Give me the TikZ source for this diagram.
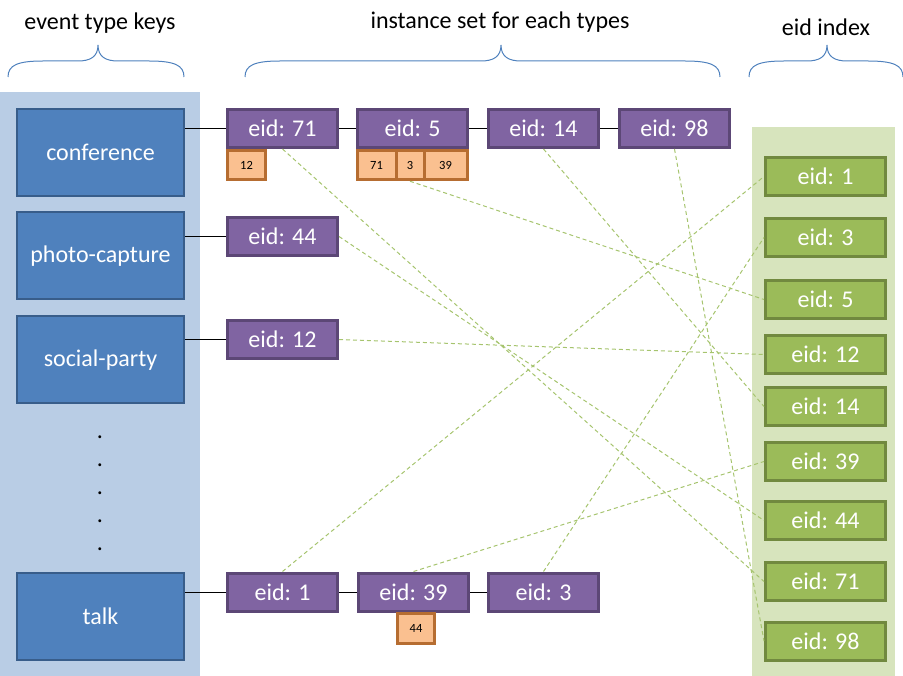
\documentclass[tikz,border=0pt]{standalone}
\usepackage{fontspec}
\setmainfont{Carlito}
\usetikzlibrary{positioning}
\definecolor{keyfill}{HTML}{4F81BD}
\definecolor{keyline}{HTML}{385D8A}
\definecolor{keyback}{HTML}{B9CDE5}
\definecolor{instfill}{HTML}{8064A2}
\definecolor{instline}{HTML}{5C4776}
\definecolor{listfill}{HTML}{FAC090}
\definecolor{listline}{HTML}{B66D31}
\definecolor{idxfill}{HTML}{9BBB59}
\definecolor{idxline}{HTML}{71893F}
\definecolor{idxback}{HTML}{D7E4BD}
\definecolor{linkgreen}{HTML}{A6C46E}

\begin{document}
\begin{tikzpicture}[x=1pt, y=-1pt, font=\fontsize{24}{28}\selectfont,
    keybox/.style={draw=keyline, fill=keyfill, line width=2pt, text=white, minimum width=167pt, minimum height=87pt, inner sep=0pt},
    instbox/.style={draw=instline, fill=instfill, line width=3pt, text=white, minimum width=110pt, minimum height=38pt, inner sep=0pt},
    listbox/.style={draw=listline, fill=listfill, line width=3pt, minimum height=29.5pt, inner sep=0pt, font=\fontsize{12.5}{14}\selectfont},
    idxbox/.style={draw=idxline, fill=idxfill, line width=3pt, text=white, minimum width=120pt, minimum height=38pt, inner sep=0pt},
    link/.style={linkgreen, dash pattern=on 4pt off 3pt, line width=1pt},
    chain/.style={black, line width=1pt},
    bracket/.style={keyfill, line width=1pt}]
    \useasboundingbox (0,0) rectangle (903,676);

    \fill[keyback] (0,92) rectangle (200,676);
    \fill[idxback] (752,127) rectangle (895,676);

    \node (keystitle) at (100,23) {event type keys};
    \node (insttitle) at (500,22) {instance set for each types};
    \node (idxtitle) at (826,27) {eid index};
    \foreach \a/\m/\b in {8/98/184, 245/501/720, 749/827/903}
        \draw[bracket] (\a,77) .. controls (\a,65) and (\a+10,61) .. (\a+35,61) -- (\m-20,61)
            .. controls (\m-8,61) and (\m,57) .. (\m,45) .. controls (\m,57) and (\m+8,61) .. (\m+20,61)
            -- (\b-35,61) .. controls (\b-10,61) and (\b,65) .. (\b,77);

    \node[keybox] (conference) at (100.5,152.5) {conference};
    \node[keybox] (photo) at (100.5,256) {photo-capture};
    \node[keybox] (social) at (100.5,360) {social-party};
    \node[keybox] (talk) at (100.5,616) {talk};
    \foreach \y in {437,465,493,521,549} \node (dot\y) at (100,\y) {.};

    \node[instbox] (c71) at (282.5,128.5) {eid: 71};
    \node[instbox] (c5) at (412.5,128.5) {eid: 5};
    \node[instbox] (c14) at (543.5,128.5) {eid: 14};
    \node[instbox] (c98) at (674.5,128.5) {eid: 98};
    \node[instbox] (p44) at (282.5,236.5) {eid: 44};
    \node[instbox] (s12) at (282.5,339.5) {eid: 12};
    \node[instbox] (t1) at (282.5,592) {eid: 1};
    \node[instbox] (t39) at (413.5,592) {eid: 39};
    \node[instbox] (t3) at (543.5,592) {eid: 3};

    \node[listbox, minimum width=38pt] (l12) at (246.5,165) {12};
    \node[listbox, minimum width=39pt] (l71) at (376.5,165) {71};
    \node[listbox, minimum width=28pt] (l3) at (410,165) {3};
    \node[listbox, minimum width=43pt] (l39) at (445.5,165) {39};
    \node[listbox, minimum width=37pt, minimum height=30pt] (l44) at (416,628.5) {44};

    \foreach \n/\y in {1/176.5, 3/237.5, 5/299.5, 12/354.5, 14/406.5, 39/461.5, 44/520.5, 71/581.5, 98/641}
        \node[idxbox] (idx\n) at (825.5,\y) {eid: \n};

    \draw[chain] (c71.west -| conference.east) -- (c71.west);
    \draw[chain] (c71) -- (c5);
    \draw[chain] (c5) -- (c14);
    \draw[chain] (c14) -- (c98);
    \draw[chain] (p44.west -| photo.east) -- (p44.west);
    \draw[chain] (s12.west -| social.east) -- (s12.west);
    \draw[chain] (t1.west -| talk.east) -- (t1.west);
    \draw[chain] (t1) -- (t39);
    \draw[chain] (t39) -- (t3);

    \draw[link] (c71.south) -- (idx71.west);
    \draw[link] (l3.south) -- (idx5.west);
    \draw[link] (c14.south) -- (idx14.west);
    \draw[link] (c98.south) -- (idx98.west);
    \draw[link] (p44.east) -- (idx44.west);
    \draw[link] (s12.east) -- (idx12.west);
    \draw[link] (t1.north) -- (idx1.west);
    \draw[link] (t39.north) -- (idx39.west);
    \draw[link] (t3.north) -- (idx3.west);
\end{tikzpicture}
\end{document}
